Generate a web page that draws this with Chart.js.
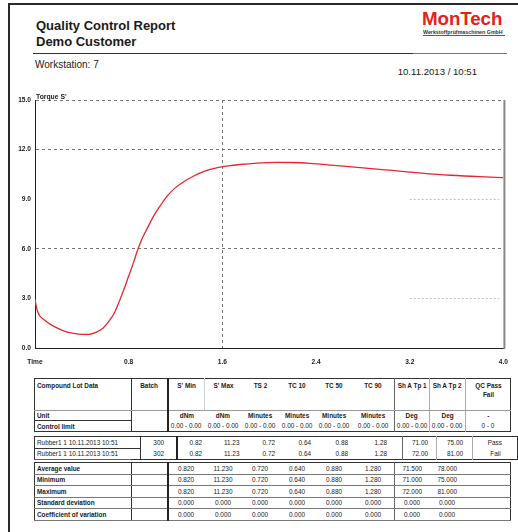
<!DOCTYPE html>
<html>
<head>
<meta charset="utf-8">
<title>Quality Control Report</title>
<script src="https://cdn.jsdelivr.net/npm/chart.js@4.4.1/dist/chart.umd.min.js"></script>
<style>
    html, body { margin: 0; padding: 0; background: #fff; }
    body {
        position: relative; width: 518px; height: 532px; overflow: hidden;
        font-family: "Liberation Sans", Arial, sans-serif; color: #1a1a1a;
    }
    .abs { position: absolute; }
    .frame-left { left: 7.5px; top: 2.5px; width: 2px; height: 540px; background: #2a2a2a; }
    .frame-top { left: 7.5px; top: 2.5px; width: 520px; height: 2px; background: #2a2a2a; }
    .title { left: 36px; font-weight: bold; font-size: 13px; line-height: 13px; }
    .rule { top: 52.5px; height: 1.6px; }
    .workstation { left: 35px; top: 59px; font-size: 10px; }
    .stamp { left: 380px; width: 97px; top: 66px; font-size: 9.6px; text-align: right; }
    .logo { left: 422px; top: 9px; width: 84px; color: #e2231a; font-weight: bold; font-size: 18.8px; line-height: 20px; letter-spacing: -0.1px; }
    .logo-sub { left: 423px; top: 29px; width: 82px; font-size: 5.3px; font-weight: bold; color: #333; white-space: nowrap; }
    .logo-line { left: 423px; top: 34.5px; width: 82px; height: 1.2px; background: #e2231a; }

    #chartBox { left: 0; top: 85px; }

    /* report tables: Arial-like face squeezed to a narrow width */
    table.qc {
        position: absolute; left: 34px; border-collapse: collapse; table-layout: fixed;
        font-size: 8px; border: 1px solid #333;
    }
    table.qc td { padding: 0 2px; text-align: center; white-space: nowrap; line-height: 9px; }
    table.qc td.name { text-align: left; }
    table.qc td span { display: inline-block; transform: scaleX(0.8); margin: 0 -30px; }
    table.qc td.name span { transform-origin: left center; margin: 0; }
    table.qc .b { font-weight: bold; }
    table.qc td.c0 { border-right: 1px solid #333; }
    table.qc td.c1 { border-right: 2px solid #222; }
    table.qc td.c7 { border-right: 1px solid #666; }
    table.qc td.g { border-right: 1px solid #aaa; }
    table.qc td.lg { border-right: 1px solid #d0d0d0; }
    table.qc tr.sep td { border-bottom: 1px solid #999; }
    table.qc td.ul { border-bottom: 1px solid #333; }
    #head tr.top td { vertical-align: top; padding-top: 2px; }
    #stats tr td { border-bottom: 1px solid #777; }
    .red-line { left: 34px; top: 458.5px; width: 97px; height: 1.4px; background: #e4282c; }
</style>
</head>
<body>

<div class="abs frame-left"></div>
<div class="abs frame-top"></div>

<div class="abs title" style="top:19px">Quality Control Report</div>
<div class="abs title" style="top:35px">Demo Customer</div>
<div class="abs rule" style="left:33px; width:380px; background:#333"></div>
<div class="abs rule" style="left:413px; width:94px; background:#777"></div>
<div class="abs workstation">Workstation: 7</div>
<div class="abs stamp">10.11.2013 / 10:51</div>

<div class="abs logo">MonTech</div>
<div class="abs logo-sub">Werkstoffprüfmaschinen GmbH</div>
<div class="abs logo-line"></div>

<div class="abs" id="chartBox"><canvas id="torqueChart" width="518" height="285"></canvas></div>

<!-- lot data header -->
<table class="qc" id="head" style="top:378px">
    <colgroup>
        <col style="width:97px"><col style="width:36px"><col style="width:37px"><col style="width:37px">
        <col style="width:37px"><col style="width:37px"><col style="width:37px"><col style="width:42px">
        <col style="width:35px"><col style="width:36px"><col style="width:45px">
    </colgroup>
    <tr class="top sep" style="height:32px">
        <td class="c0 name b">Compound Lot Data</td>
        <td class="c1 b">Batch</td>
        <td class="lg b">S' Min</td>
        <td class="b">S' Max</td>
        <td class="b">TS 2</td>
        <td class="b">TC 10</td>
        <td class="b">TC 50</td>
        <td class="c7 b">TC 90</td>
        <td class="g b">Sh A Tp 1</td>
        <td class="g b">Sh A Tp 2</td>
        <td class="b">QC Pass<br>Fail</td>
    </tr>
    <tr style="height:10px">
        <td class="c0 name b ul">Unit</td>
        <td class="c1"></td>
        <td class="b">dNm</td>
        <td class="b">dNm</td>
        <td class="b">Minutes</td>
        <td class="b">Minutes</td>
        <td class="b">Minutes</td>
        <td class="c7 b">Minutes</td>
        <td class="g b">Deg</td>
        <td class="g b">Deg</td>
        <td class="b">-</td>
    </tr>
    <tr style="height:11px">
        <td class="c0 name b">Control limit</td>
        <td class="c1"></td>
        <td>0.00 - 0.00</td>
        <td>0.00 - 0.00</td>
        <td>0.00 - 0.00</td>
        <td>0.00 - 0.00</td>
        <td>0.00 - 0.00</td>
        <td class="c7">0.00 - 0.00</td>
        <td class="g">0.00 - 0.00</td>
        <td class="g">0.00 - 0.00</td>
        <td>0 - 0</td>
    </tr>
</table>

<!-- measured lots -->
<table class="qc" id="lots" style="top:436px">
    <colgroup>
        <col style="width:97px"><col style="width:36px"><col style="width:37px"><col style="width:37px">
        <col style="width:37px"><col style="width:37px"><col style="width:37px"><col style="width:42px">
        <col style="width:35px"><col style="width:36px"><col style="width:45px">
    </colgroup>
    <tr style="height:11.5px">
        <td class="c0 name ul">Rubber1 1 10.11.2013 10:51</td>
        <td class="c1">300</td>
        <td>0.82</td><td>11.23</td><td>0.72</td><td>0.64</td><td>0.88</td>
        <td class="c7">1.28</td>
        <td class="g">71.00</td>
        <td class="g">75.00</td>
        <td>Pass</td>
    </tr>
    <tr style="height:11.5px">
        <td class="c0 name">Rubber1 1 10.11.2013 10:51</td>
        <td class="c1">302</td>
        <td>0.82</td><td>11.23</td><td>0.72</td><td>0.64</td><td>0.88</td>
        <td class="c7">1.28</td>
        <td class="g">72.00</td>
        <td class="g">81.00</td>
        <td>Fail</td>
    </tr>
</table>
<div class="abs red-line"></div>

<!-- statistics -->
<table class="qc" id="stats" style="top:462px">
    <colgroup>
        <col style="width:97px"><col style="width:36px"><col style="width:37px"><col style="width:37px">
        <col style="width:37px"><col style="width:37px"><col style="width:37px"><col style="width:42px">
        <col style="width:35px"><col style="width:36px"><col style="width:45px">
    </colgroup>
    <tr style="height:11.5px">
        <td class="c0 name b">Average value</td><td class="c1"></td>
        <td>0.820</td><td>11.230</td><td>0.720</td><td>0.640</td><td>0.880</td>
        <td class="c7">1.280</td><td>71.500</td><td>78.000</td><td></td>
    </tr>
    <tr style="height:11.5px">
        <td class="c0 name b">Minimum</td><td class="c1"></td>
        <td>0.820</td><td>11.230</td><td>0.720</td><td>0.640</td><td>0.880</td>
        <td class="c7">1.280</td><td>71.000</td><td>75.000</td><td></td>
    </tr>
    <tr style="height:11.5px">
        <td class="c0 name b">Maximum</td><td class="c1"></td>
        <td>0.820</td><td>11.230</td><td>0.720</td><td>0.640</td><td>0.880</td>
        <td class="c7">1.280</td><td>72.000</td><td>81.000</td><td></td>
    </tr>
    <tr style="height:11.5px">
        <td class="c0 name b">Standard deviation</td><td class="c1"></td>
        <td>0.000</td><td>0.000</td><td>0.000</td><td>0.000</td><td>0.000</td>
        <td class="c7">0.000</td><td>0.000</td><td>0.000</td><td></td>
    </tr>
    <tr style="height:11.5px">
        <td class="c0 name b">Coefficient of variation</td><td class="c1"></td>
        <td>0.000</td><td>0.000</td><td>0.000</td><td>0.000</td><td>0.000</td>
        <td class="c7">0.000</td><td>0.000</td><td>0.000</td><td></td>
    </tr>
</table>

<script>
// wrap cell text so it can be squeezed horizontally
document.querySelectorAll('table.qc td').forEach(td => {
    if (td.innerHTML.trim()) td.innerHTML = '<span>' + td.innerHTML + '</span>';
});

// Vulcanisation curve: torque S' (dNm) against time (min)
const timeValues = [
    0.00, 0.01, 0.02, 0.04, 0.08, 0.15, 0.25, 0.33, 0.40, 0.46,
    0.52, 0.58, 0.64, 0.68, 0.72, 0.76, 0.80, 0.84, 0.88, 0.92,
    0.96, 1.01, 1.06, 1.13, 1.20, 1.28, 1.36, 1.45, 1.55, 1.65,
    1.75, 1.90, 2.05, 2.20, 2.35, 2.55, 2.80, 3.05, 3.30, 3.55,
    3.80, 4.00
];
const torqueValues = [
    2.95, 2.55, 2.25, 1.95, 1.70, 1.35, 1.02, 0.88, 0.82, 0.83,
    0.95, 1.20, 1.70, 2.15, 2.82, 3.55, 4.35, 5.15, 6.00, 6.70,
    7.25, 7.95, 8.50, 9.20, 9.70, 10.10, 10.42, 10.70, 10.90, 11.02,
    11.10, 11.18, 11.23, 11.22, 11.17, 11.05, 10.90, 10.74, 10.58, 10.45,
    10.36, 10.31
];

const xTicks = [0, 0.8, 1.6, 2.4, 3.2, 4.0];
const xTickLabels = ['Time', '0.8', '1.6', '2.4', '3.2', '4.0'];
const yTicks = [0, 3, 6, 9, 12, 15];
const yTickLabels = ['0.0', '3.0', '6.0', '9.0', '12.0', '15.0'];
const xGridAt = [1.6];
const yGridAt = [6, 12, 15];
const yFaintGridAt = [3, 9];

const tickFont = { family: "'Liberation Sans', Arial, sans-serif", size: 6.6, weight: 'bold' };

// axis caption, right frame and the faint guide lines at the right end
const chartExtras = {
    id: 'chartExtras',
    afterDraw(chart) {
        const { ctx, chartArea } = chart;
        const x = chart.scales.x;
        const y = chart.scales.y;
        ctx.save();

        ctx.strokeStyle = '#c4c4c4';
        ctx.lineWidth = 1;
        ctx.setLineDash([2, 2]);
        yFaintGridAt.forEach(v => {
            const py = Math.round(y.getPixelForValue(v)) + 0.5;
            ctx.beginPath();
            ctx.moveTo(x.getPixelForValue(3.2), py);
            ctx.lineTo(chartArea.right - 4, py);
            ctx.stroke();
        });

        ctx.setLineDash([]);
        ctx.strokeStyle = '#888';
        ctx.lineWidth = 2;
        ctx.beginPath();
        ctx.moveTo(chartArea.right + 1, chartArea.top);
        ctx.lineTo(chartArea.right + 1, chartArea.bottom + 1);
        ctx.stroke();

        ctx.fillStyle = '#1a1a1a';
        ctx.font = "bold 6.8px 'Liberation Sans', Arial, sans-serif";
        ctx.textBaseline = 'alphabetic';
        ctx.fillText("Torque S'", chartArea.left + 1, chartArea.top - 1.5);
        ctx.restore();
    }
};

new Chart(document.getElementById('torqueChart'), {
    type: 'line',
    data: {
        datasets: [{
            data: timeValues.map((t, i) => ({ x: t, y: torqueValues[i] })),
            borderColor: '#e8262b',
            borderWidth: 1.3,
            pointRadius: 0,
            fill: false,
            cubicInterpolationMode: 'monotone'
        }]
    },
    options: {
        responsive: false,
        animation: false,
        events: [],
        layout: { padding: { top: 15, right: 12, left: 0, bottom: 0 } },
        plugins: { legend: { display: false }, tooltip: { enabled: false } },
        scales: {
            x: {
                type: 'linear',
                min: 0,
                max: 4,
                afterBuildTicks: scale => { scale.ticks = xTicks.map(v => ({ value: v })); },
                afterFit: scale => { scale.height = 22; },
                ticks: {
                    autoSkip: false,
                    maxRotation: 0,
                    padding: 10,
                    color: '#1a1a1a',
                    font: tickFont,
                    callback: (value, index) => xTickLabels[index]
                },
                grid: {
                    drawTicks: false,
                    lineWidth: 1,
                    color: ctx => (ctx.tick && xGridAt.includes(ctx.tick.value)) ? '#777' : 'transparent'
                },
                border: { display: true, color: '#222', width: 1, dash: [3, 3] }
            },
            y: {
                min: 0,
                max: 15,
                afterBuildTicks: scale => { scale.ticks = yTicks.map(v => ({ value: v })); },
                afterFit: scale => { scale.width = 35; },
                ticks: {
                    padding: 4,
                    color: '#1a1a1a',
                    font: tickFont,
                    callback: (value, index) => yTickLabels[index]
                },
                grid: {
                    drawTicks: false,
                    lineWidth: 1,
                    color: ctx => (ctx.tick && yGridAt.includes(ctx.tick.value)) ? '#777' : 'transparent'
                },
                border: { display: true, color: '#222', width: 1, dash: [3, 3] }
            }
        }
    },
    plugins: [chartExtras]
});
</script>
</body>
</html>
